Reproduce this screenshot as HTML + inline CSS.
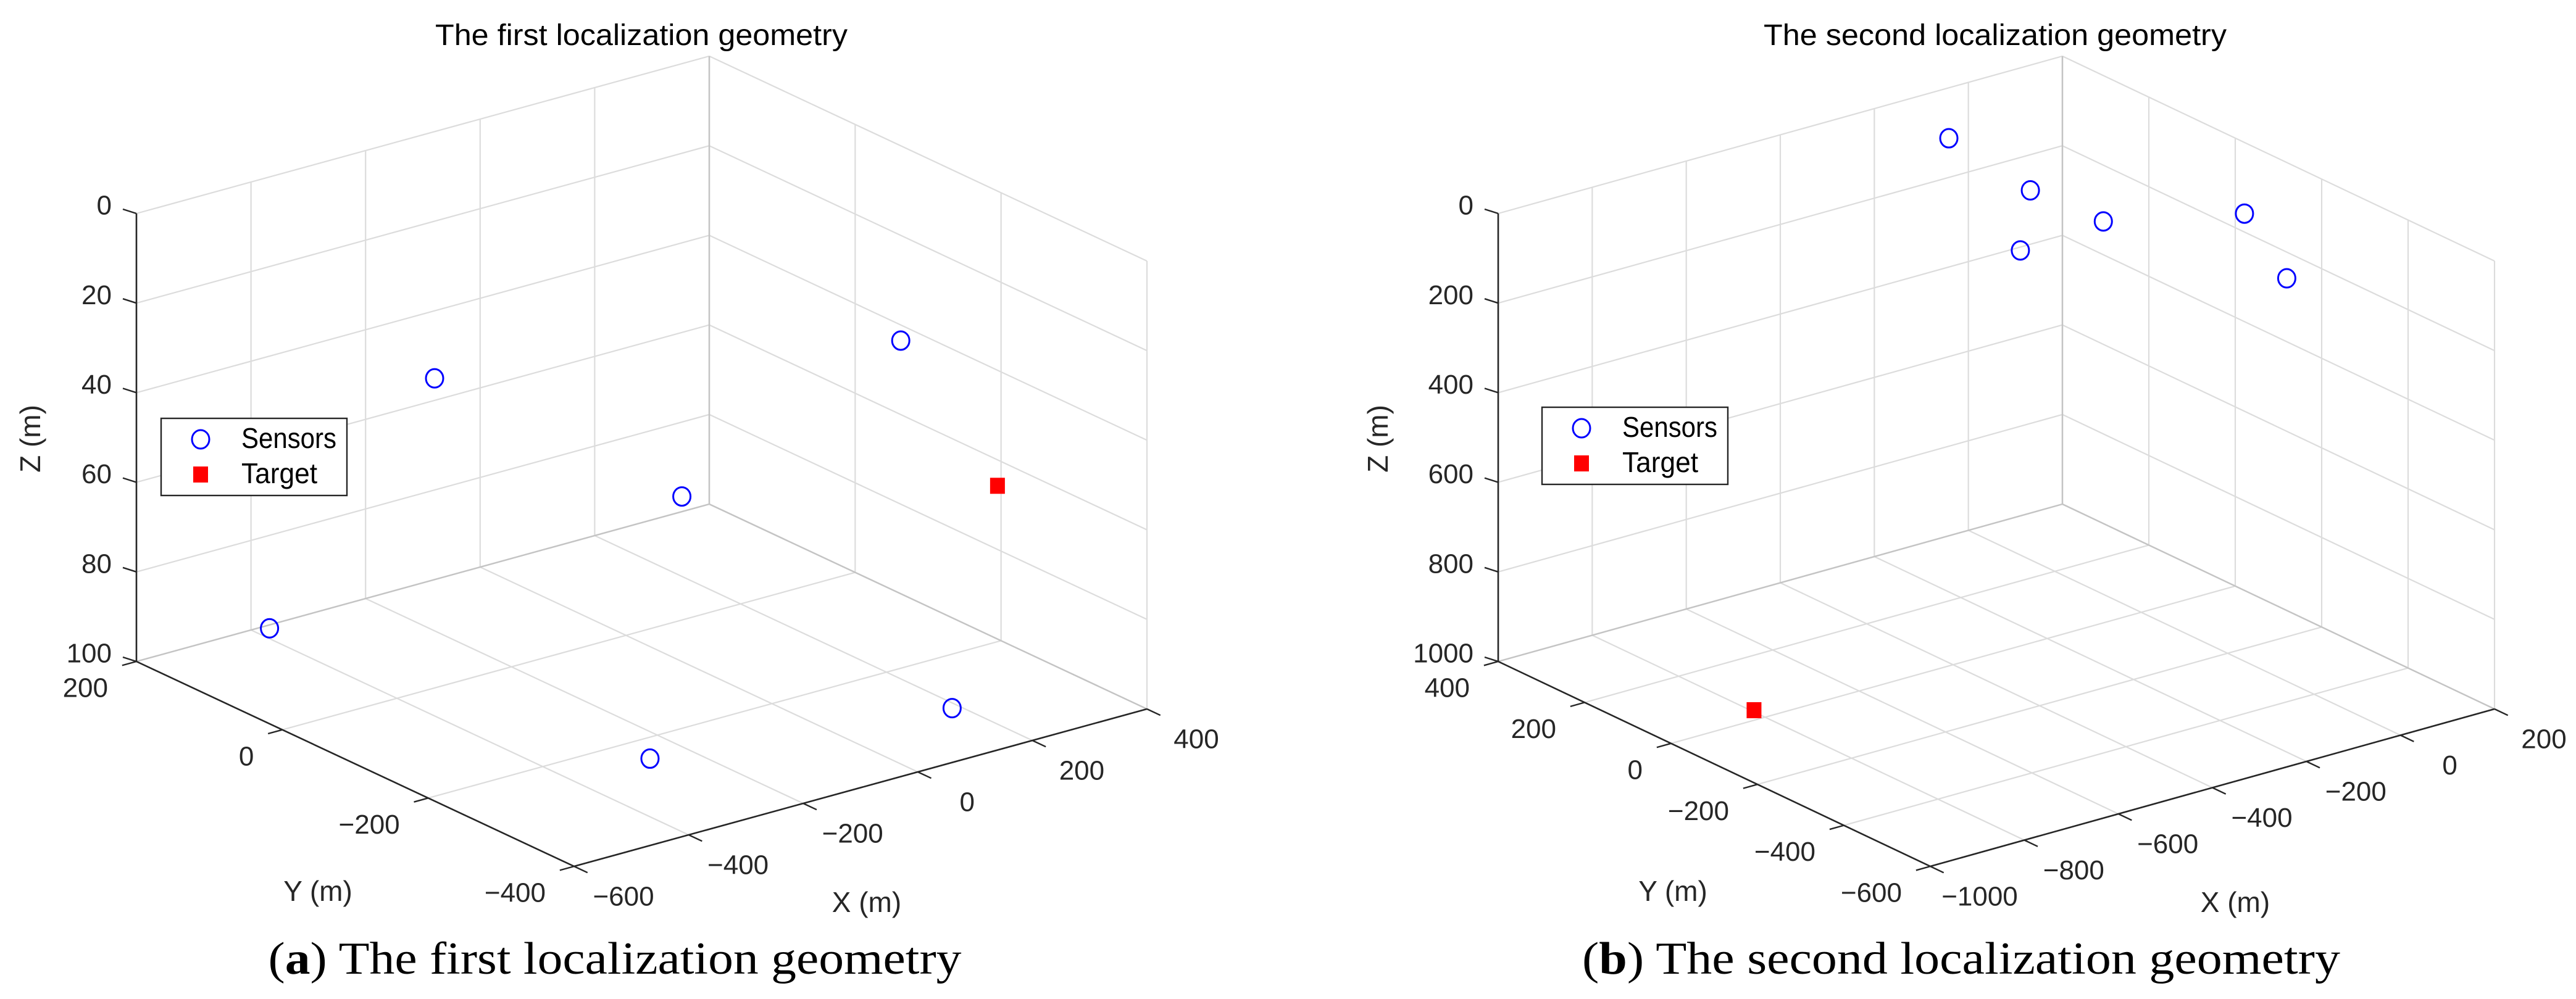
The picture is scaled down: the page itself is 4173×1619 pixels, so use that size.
<!DOCTYPE html>
<html><head><meta charset="utf-8">
<style>
html,body{margin:0;padding:0;background:#fff;}
svg{display:block;}
text{font-family:"Liberation Sans",Arial,sans-serif;fill:#262626;}
.cap{font-family:"Liberation Serif",serif;fill:#000;}
</style></head>
<body>
<svg id="fig" xmlns="http://www.w3.org/2000/svg" width="4173" height="1619" viewBox="0 0 4173 1619">
<rect width="4173" height="1619" fill="#fff"/>
</svg>
<script>
// ---- Panel (a) data ----
const aSensorX = [-133, 258, 72, -481, -316, 135];
const aSensorY = [158, -174, -20, 111, -281, -341];
const aSensorZ = [50, 30, 70, 90, 95, 95];
const aTargetX = [339];
const aTargetY = [-243];
const aTargetZ = [60];
const aXTicks = [-600, -400, -200, 0, 200, 400];
const aYTicks = [-400, -200, 0, 200];
const aZTicks = [0, 20, 40, 60, 80, 100];
// ---- Panel (b) data ----
const bSensorX = [-184, -222, -212, -405, -1, -127];
const bSensorY = [245, 15, -143, -161, -240, -475];
const bSensorZ = [0, 0, 0, 0, 0, 0];
const bTargetX = [-795];
const bTargetY = [31];
const bTargetZ = [1000];
const bXTicks = [-1000, -800, -600, -400, -200, 0, 200];
const bYTicks = [-600, -400, -200, 0, 200, 400];
const bZTicks = [0, 200, 400, 600, 800, 1000];

const NS = "http://www.w3.org/2000/svg";
const svg = document.getElementById('fig');
const TICKFS = 44;
function mk(tag, attrs, parent){
  const e = document.createElementNS(NS, tag);
  for (const k in attrs) e.setAttribute(k, attrs[k]);
  (parent||svg).appendChild(e);
  return e;
}
function fmt(v){ return v < 0 ? '\u2212' + Math.abs(v) : String(v); }

function panel(cfg){
  const g = mk('g', {});
  
  
  const F = cfg.F, R = cfg.R, L = cfg.L, H = 726;
  const xs = cfg.xTicks, ys = cfg.yTicks, zs = cfg.zTicks;
  const xmin = xs[0], xmax = xs[xs.length-1];
  const ymin = ys[0], ymax = ys[ys.length-1];
  const zmin = zs[0], zmax = zs[zs.length-1];
  function P(x, y, z){
    const u = (x - xmin)/(xmax - xmin);
    const v = (y - ymin)/(ymax - ymin);
    const h = (zmax - z)/(zmax - zmin);
    return [F[0] + u*(R[0]-F[0]) + v*(L[0]-F[0]),
            F[1] + u*(R[1]-F[1]) + v*(L[1]-F[1]) - h*H];
  }
  function line(a, b, stroke, w, parent){
    return mk('line', {x1:a[0], y1:a[1], x2:b[0], y2:b[1], stroke:stroke, 'stroke-width':w}, parent);
  }
  const grid = mk('g', {}, g);
  
  
  const gc = '#dcdcdc';
  xs.forEach(x => line(P(x, ymin, zmax), P(x, ymax, zmax), gc, 2.2, grid));
  ys.forEach(y => line(P(xmin, y, zmax), P(xmax, y, zmax), gc, 2.2, grid));
  xs.forEach(x => line(P(x, ymax, zmin), P(x, ymax, zmax), gc, 2.2, grid));
  zs.forEach(z => line(P(xmin, ymax, z), P(xmax, ymax, z), gc, 2.2, grid));
  ys.forEach(y => line(P(xmax, y, zmin), P(xmax, y, zmax), gc, 2.2, grid));
  zs.forEach(z => line(P(xmax, ymin, z), P(xmax, ymax, z), gc, 2.2, grid));
  line(P(xmax, ymax, zmin), P(xmax, ymax, zmax), '#c4c4c4', 2.4, grid);
  line(P(xmin, ymax, zmax), P(xmax, ymax, zmax), '#c4c4c4', 2.4, grid);
  line(P(xmax, ymin, zmax), P(xmax, ymax, zmax), '#c4c4c4', 2.4, grid);

  const ax = '#262626';
  const zAxis = line(P(xmin, ymax, zmin), P(xmin, ymax, zmax), ax, 2.6, g);
   
  const yAxis = line(P(xmin, ymin, zmax), P(xmin, ymax, zmax), ax, 2.6, g);
   
  const xAxis = line(P(xmin, ymin, zmax), P(xmax, ymin, zmax), ax, 2.6, g);
   

  zs.forEach(z => {
    const p = P(xmin, ymax, z);
    line([p[0]-22, p[1]-7], p, ax, 2.4, g);
    const t = mk('text', {x:p[0]-40, y:p[1]-10, 'font-size':TICKFS, 'text-anchor':'end', 'dominant-baseline':'middle'}, g);
    
    
    t.textContent = fmt(z);
  });
  const dxv = [R[0]-F[0], R[1]-F[1]]; const dxl = Math.hypot(dxv[0], dxv[1]);
  const dyv = [L[0]-F[0], L[1]-F[1]]; const dyl = Math.hypot(dyv[0], dyv[1]);
  ys.forEach(y => {
    const p = P(xmin, y, zmax);
    line(p, [p[0]-24*dxv[0]/dxl, p[1]-24*dxv[1]/dxl], ax, 2.4, g);
    const t = mk('text', {x:p[0]-46, y:p[1]+46, 'font-size':TICKFS, 'text-anchor':'end', 'dominant-baseline':'middle'}, g);
    
    
    t.textContent = fmt(y);
  });
  xs.forEach(x => {
    const p = P(x, ymin, zmax);
    line(p, [p[0]-24*dyv[0]/dyl, p[1]-24*dyv[1]/dyl], ax, 2.4, g);
    const t = mk('text', {x:p[0]+80, y:p[1]+52, 'font-size':TICKFS, 'text-anchor':'middle', 'dominant-baseline':'middle'}, g);
    
    
    t.textContent = fmt(x);
  });
  const zt = mk('text', {x:0, y:0, 'font-size':46, 'text-anchor':'middle', 'dominant-baseline':'middle', transform:`translate(${cfg.zLab[0]},${cfg.zLab[1]}) rotate(-90)`}, g);
   
  zt.textContent = 'Z (m)';
  const yt = mk('text', {x:cfg.yLab[0], y:cfg.yLab[1], 'font-size':46, 'text-anchor':'middle', 'dominant-baseline':'middle'}, g);
   
  yt.textContent = 'Y (m)';
  const xt = mk('text', {x:cfg.xLab[0], y:cfg.xLab[1], 'font-size':46, 'text-anchor':'middle', 'dominant-baseline':'middle'}, g);
   
  xt.textContent = 'X (m)';
  const tt = mk('text', {x:cfg.title[0], y:73, 'font-size':48, 'text-anchor':'middle', textLength:cfg.title[1], lengthAdjust:'spacingAndGlyphs'}, g);
   
  tt.style.fill = '#000';
  tt.textContent = cfg.titleText;
  cfg.sx.forEach((x, i) => {
    const p = P(x, cfg.sy[i], cfg.sz[i]);
    const c = mk('ellipse', {cx:p[0], cy:p[1], rx:14, ry:15, fill:'none', stroke:'#0000ff', 'stroke-width':3}, g);
    
    
  });
  cfg.tx.forEach((x, i) => {
    const p = P(x, cfg.ty[i], cfg.tz[i]);
    const r = mk('rect', {x:p[0]-12, y:p[1]-13, width:24, height:26, fill:'#ff0000'}, g);
    
    
  });
  const lg = mk('g', {}, g);
  
  
  const B = cfg.leg;
  mk('rect', {x:B[0], y:B[1], width:301, height:125, fill:'#fff', stroke:'#262626', 'stroke-width':2.4}, lg);
  const e1 = mk('ellipse', {cx:B[0]+64, cy:B[1]+34, rx:14, ry:15, fill:'none', stroke:'#0000ff', 'stroke-width':3}, lg);
   
  const l1 = mk('text', {x:B[0]+130, y:B[1]+36, 'font-size':46, 'dominant-baseline':'middle', textLength:154, lengthAdjust:'spacingAndGlyphs'}, lg);
   
  l1.style.fill = '#000';
  l1.textContent = 'Sensors';
  const r1 = mk('rect', {x:B[0]+52, y:B[1]+78, width:24, height:26, fill:'#ff0000'}, lg);
   
  const l2 = mk('text', {x:B[0]+130, y:B[1]+93, 'font-size':46, 'dominant-baseline':'middle', textLength:123, lengthAdjust:'spacingAndGlyphs'}, lg);
   
  l2.style.fill = '#000';
  l2.textContent = 'Target';
  const cp = mk('text', {x:cfg.cap[0], y:1578, 'font-size':74, 'text-anchor':'middle', textLength:cfg.cap[1], lengthAdjust:'spacingAndGlyphs', class:'cap'}, g);
   
  const bold = document.createElementNS(NS, 'tspan');
  bold.setAttribute('font-weight', 'bold');
  bold.textContent = cfg.capLetter;
  cp.appendChild(document.createTextNode('('));
  cp.appendChild(bold);
  cp.appendChild(document.createTextNode(') ' + cfg.titleText));
}

panel({name:'panel-a', F:[930,1404], R:[1858,1149], L:[221,1072],
  xTicks:aXTicks, yTicks:aYTicks, zTicks:aZTicks,
  sx:aSensorX, sy:aSensorY, sz:aSensorZ, tx:aTargetX, ty:aTargetY, tz:aTargetZ,
  zLab:[53,711], yLab:[515,1448], xLab:[1404,1466], title:[1039,668],
  titleText:'The first localization geometry', leg:[261,678], cap:[996,1123], capLetter:'a'});
panel({name:'panel-b', F:[3127,1404], R:[4041,1149], L:[2427,1072],
  xTicks:bXTicks, yTicks:bYTicks, zTicks:bZTicks,
  sx:bSensorX, sy:bSensorY, sz:bSensorZ, tx:bTargetX, ty:bTargetY, tz:bTargetZ,
  zLab:[2236,711], yLab:[2710,1448], xLab:[3621,1466], title:[3232,750],
  titleText:'The second localization geometry', leg:[2498,660], cap:[3177,1228], capLetter:'b'});
</script>
</body></html>
